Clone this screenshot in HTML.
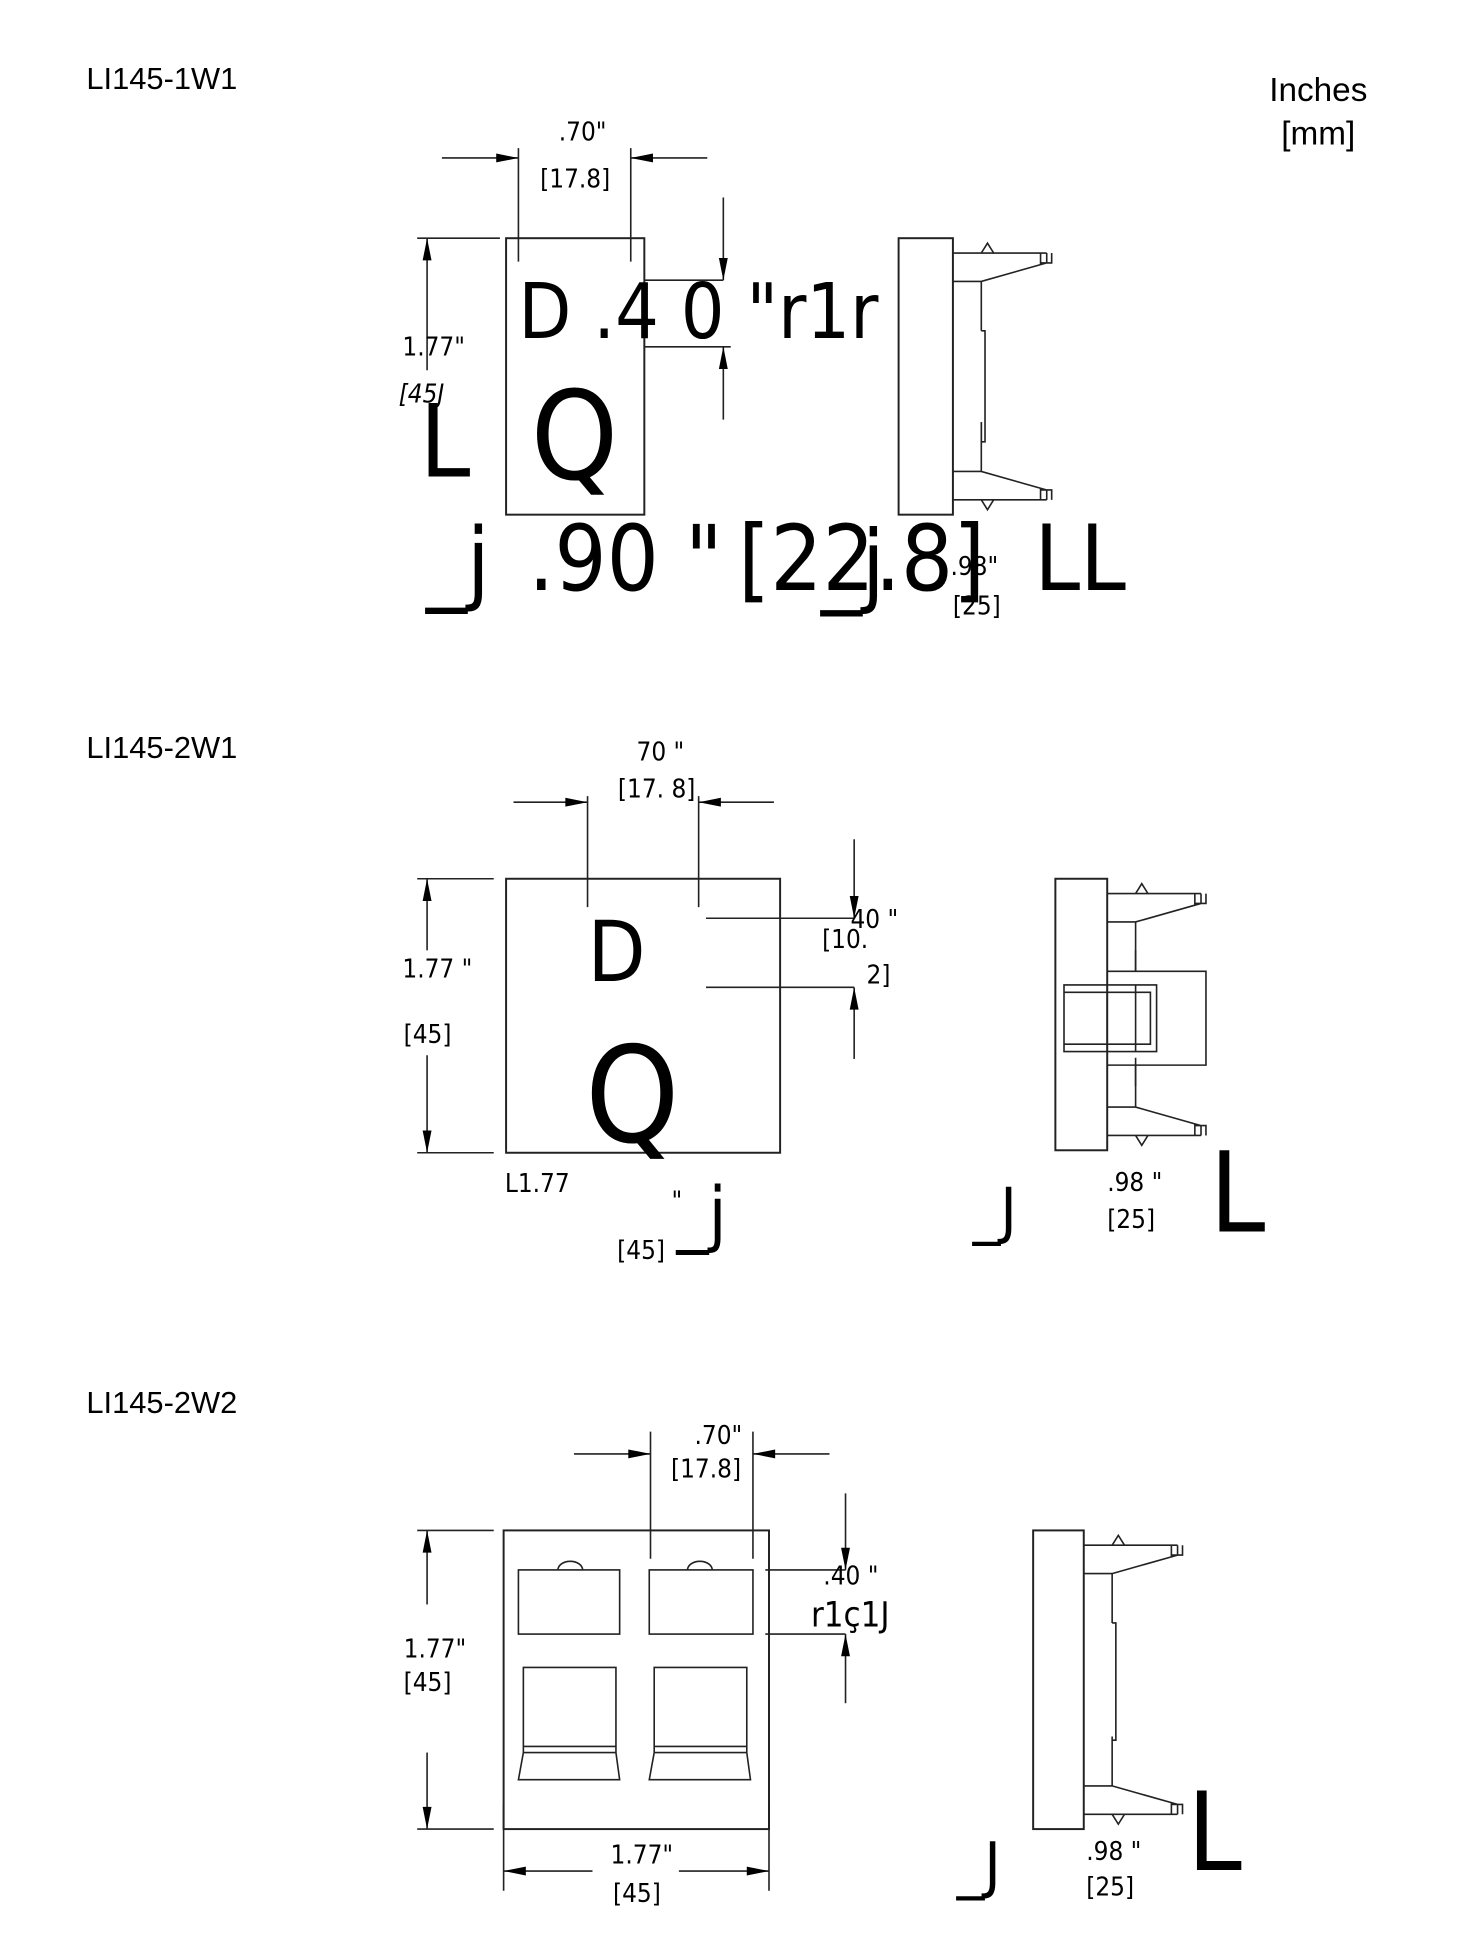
<!DOCTYPE html>
<html><head><meta charset="utf-8"><style>
html,body{margin:0;padding:0;background:#fff}
svg{display:block}
text{font-family:"Liberation Sans",sans-serif;fill:#000}
.n{font-family:"DejaVu Sans Condensed","Liberation Sans",sans-serif}
.l{stroke:#222;stroke-width:1.3;fill:none}
.t{stroke:#222;stroke-width:1.6;fill:#fff}
</style></head><body>
<svg width="1459" height="1934" viewBox="0 0 1182 1567" preserveAspectRatio="none" xmlns="http://www.w3.org/2000/svg">
<defs>
<marker id="a" viewBox="0 0 20 10" refX="20" refY="5" markerWidth="20" markerHeight="9" markerUnits="userSpaceOnUse" orient="auto"><path d="M0,1 L20,5 L0,9 z" fill="#000"/></marker>
<g id="pin">
<path class="l" d="M0,12 H76 M0,35 H23 L76,20 M76,12 V20 M71,12 V21 M80,12 V20 H71 M23,12 L28,4 L33,12 M23,35 V75"/>
</g>
</defs>

<!-- Header -->
<text x="70" y="72" font-size="25">LI145-1W1</text>
<text x="1068" y="82" font-size="27" text-anchor="middle">Inches</text>
<text x="1068" y="117" font-size="27" text-anchor="middle">[mm]</text>

<!-- ===== Section 1 ===== -->
<rect x="410" y="193" width="112" height="224" class="t"/>
<path class="l" d="M420,120 V212 M511,120 V212"/>
<line class="l" x1="358" y1="128" x2="420" y2="128" marker-end="url(#a)"/>
<line class="l" x1="573" y1="128" x2="511" y2="128" marker-end="url(#a)"/>
<text class="n" x="472" y="114" font-size="21" text-anchor="middle">.70"</text>
<text class="n" x="466" y="152" font-size="21" text-anchor="middle">[17.8]</text>
<path class="l" d="M522,227 H586 M522,281 H592"/>
<line class="l" x1="586" y1="160" x2="586" y2="227" marker-end="url(#a)"/>
<line class="l" x1="586" y1="340" x2="586" y2="281" marker-end="url(#a)"/>
<path class="l" d="M338,193 H405"/>
<line class="l" x1="346" y1="300" x2="346" y2="193" marker-end="url(#a)"/>
<text class="n" x="326" y="288" font-size="21">1.77"</text>
<text class="n" x="323" y="326" font-size="21" font-style="italic">[45J</text>
<text class="n" x="420" y="274" font-size="62">D .4 0 "r1r</text>
<text class="n" x="340" y="386" font-size="82">L</text>
<text class="n" x="430" y="388" font-size="100">Q</text>
<text class="n" x="345" y="480" font-size="74">_j</text>
<text class="n" x="428" y="478" font-size="74">.90 "</text>
<text class="n" x="598" y="478" font-size="74">[22.8]</text>
<text class="n" x="665" y="482" font-size="74">_j</text>
<text class="n" x="838" y="478" font-size="74">LL</text>
<text class="n" x="770" y="466" font-size="21">.98"</text>
<text class="n" x="772" y="498" font-size="21">[25]</text>
<rect x="728" y="193" width="44" height="224" class="t"/>
<use href="#pin" x="772" y="193"/>
<use href="#pin" transform="translate(772,417) scale(1,-1)"/>
<path class="l" d="M795,268 H798 V358 H795 V342"/>

<!-- ===== Section 2 ===== -->
<text x="70" y="614" font-size="25">LI145-2W1</text>
<rect x="410" y="712" width="222" height="222" class="t"/>
<path class="l" d="M476,645 V735 M566,645 V735"/>
<line class="l" x1="416" y1="650" x2="476" y2="650" marker-end="url(#a)"/>
<line class="l" x1="627" y1="650" x2="566" y2="650" marker-end="url(#a)"/>
<text class="n" x="535" y="616" font-size="21" text-anchor="middle">70 "</text>
<text class="n" x="532" y="646" font-size="21" text-anchor="middle">[17. 8]</text>
<path class="l" d="M572,744 H692 M572,800 H692"/>
<line class="l" x1="692" y1="680" x2="692" y2="744" marker-end="url(#a)"/>
<line class="l" x1="692" y1="858" x2="692" y2="800" marker-end="url(#a)"/>
<text class="n" x="689" y="752" font-size="21">40 "</text>
<text class="n" x="666" y="768" font-size="21">[10.</text>
<text class="n" x="702" y="797" font-size="21">2]</text>
<path class="l" d="M338,712 H400 M338,934 H400"/>
<line class="l" x1="346" y1="770" x2="346" y2="712" marker-end="url(#a)"/>
<line class="l" x1="346" y1="855" x2="346" y2="934" marker-end="url(#a)"/>
<text class="n" x="326" y="792" font-size="21">1.77 "</text>
<text class="n" x="327" y="845" font-size="21">[45]</text>
<text class="n" x="476" y="795" font-size="68">D</text>
<text class="n" x="474" y="925" font-size="108">Q</text>
<text class="n" x="409" y="966" font-size="21">L1.77</text>
<text class="n" x="544" y="980" font-size="21">"</text>
<text class="n" x="548" y="1003" font-size="58">_j</text>
<text class="n" x="500" y="1020" font-size="21">[45]</text>
<text class="n" x="788" y="998" font-size="50">_J</text>
<text class="n" x="897" y="965" font-size="21">.98 "</text>
<text class="n" x="897" y="995" font-size="21">[25]</text>
<text class="n" x="980" y="998" font-size="90">L</text>
<rect x="855" y="712" width="42" height="220" class="t"/>
<use href="#pin" x="897" y="712"/>
<use href="#pin" transform="translate(897,932) scale(1,-1)"/>
<path class="l" d="M897,787 H977 V863 H897 M862,798 H937 V852 H862 Z M862,804 H932 V846 H862 M897,798 V852 M920,798 V852"/>
<path class="l" d="M920,770 V787 M920,863 V880"/>

<!-- ===== Section 3 ===== -->
<text x="70" y="1145" font-size="25">LI145-2W2</text>
<rect x="408" y="1240" width="215" height="242" class="t"/>
<path class="l" d="M527,1160 V1263 M610,1160 V1263"/>
<line class="l" x1="465" y1="1178" x2="527" y2="1178" marker-end="url(#a)"/>
<line class="l" x1="672" y1="1178" x2="610" y2="1178" marker-end="url(#a)"/>
<text class="n" x="582" y="1170" font-size="21" text-anchor="middle">.70"</text>
<text class="n" x="572" y="1197" font-size="21" text-anchor="middle">[17.8]</text>
<rect x="420" y="1272" width="82" height="52" class="l"/>
<rect x="526" y="1272" width="84" height="52" class="l"/>
<path class="l" d="M452,1272 A10,7 0 0 1 472,1272 M557,1272 A10,7 0 0 1 577,1272"/>
<path class="l" d="M424,1351 H499 V1420 L502,1442 H420 L424,1420 Z M424,1415 H499 M424,1420 H499"/>
<path class="l" d="M530,1351 H605 V1420 L608,1442 H526 L530,1420 Z M530,1415 H605 M530,1420 H605"/>
<path class="l" d="M620,1272 H685 M620,1324 H685"/>
<line class="l" x1="685" y1="1210" x2="685" y2="1272" marker-end="url(#a)"/>
<line class="l" x1="685" y1="1380" x2="685" y2="1324" marker-end="url(#a)"/>
<text class="n" x="667" y="1284" font-size="21">.40 "</text>
<text class="n" x="657" y="1318" font-size="28">r1ç1J</text>
<path class="l" d="M338,1240 H400 M338,1482 H400"/>
<line class="l" x1="346" y1="1300" x2="346" y2="1240" marker-end="url(#a)"/>
<line class="l" x1="346" y1="1420" x2="346" y2="1482" marker-end="url(#a)"/>
<text class="n" x="327" y="1343" font-size="21">1.77"</text>
<text class="n" x="327" y="1370" font-size="21">[45]</text>
<path class="l" d="M408,1462 V1532 M623,1462 V1532"/>
<line class="l" x1="480" y1="1516" x2="408" y2="1516" marker-end="url(#a)"/>
<line class="l" x1="550" y1="1516" x2="623" y2="1516" marker-end="url(#a)"/>
<text class="n" x="520" y="1510" font-size="21" text-anchor="middle">1.77"</text>
<text class="n" x="516" y="1541" font-size="21" text-anchor="middle">[45]</text>
<rect x="837" y="1240" width="41" height="242" class="t"/>
<use href="#pin" x="878" y="1240"/>
<use href="#pin" transform="translate(878,1482) scale(1,-1)"/>
<path class="l" d="M901,1315 H904 V1410 H901"/>
<text class="n" x="775" y="1528" font-size="50">_J</text>
<text class="n" x="880" y="1507" font-size="21">.98 "</text>
<text class="n" x="880" y="1536" font-size="21">[25]</text>
<text class="n" x="962" y="1515" font-size="88">L</text>
</svg>
</body></html>
